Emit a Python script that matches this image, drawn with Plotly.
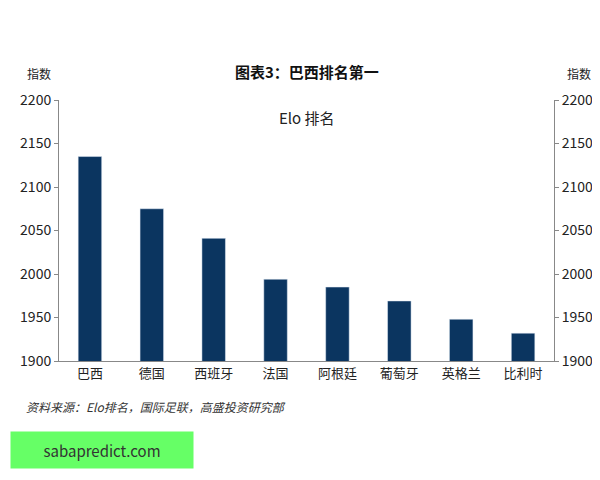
import plotly.graph_objects as go

categories = ["巴西", "德国", "西班牙", "法国", "阿根廷", "葡萄牙", "英格兰", "比利时"]
values = [2135, 2075, 2041, 1994, 1985, 1969, 1948, 1932]
ticks = [1900, 1950, 2000, 2050, 2100, 2150, 2200]

F = "Noto Sans CJK SC"
fig = go.Figure()
fig.add_trace(go.Bar(x=categories, y=values, marker_color="#0B3560", width=0.38))
fig.add_trace(go.Bar(x=categories, y=values, yaxis="y2", opacity=0, showlegend=False, hoverinfo="skip", width=0.38))
ax = dict(range=[1900, 2200], tickvals=ticks, showgrid=False, showline=True, linecolor="#888",
          ticks="outside", ticklen=4, tickcolor="#888", tickfont=dict(size=14, color="#222", family=F))
fig.update_layout(
    width=600, height=480, margin=dict(l=40, r=54, t=92, b=127),
    plot_bgcolor="white", paper_bgcolor="white", showlegend=False, barmode="overlay",
    font=dict(family=F),
    xaxis=dict(showline=True, linecolor="#888", ticks="", tickfont=dict(size=13, color="#222", family=F)),
    yaxis=ax,
    yaxis2=dict(ax, overlaying="y", side="right"),
    annotations=[
        dict(text="<b>图表3：巴西排名第一</b>", x=0.5, y=1.0, yanchor="bottom", yshift=16, xref="paper", yref="paper", showarrow=False, font=dict(size=15, color="#111")),
        dict(text="Elo 排名", x=0.5, xref="paper", y=1.0, yref="paper", yanchor="top", yshift=-5, showarrow=False, font=dict(size=15, color="#222")),
        dict(text="指数", x=-0.04, xref="paper", y=1.0, yref="paper", yanchor="bottom", xanchor="center", yshift=16, showarrow=False, font=dict(size=12, color="#222")),
        dict(text="指数", x=1.05, xref="paper", y=1.0, yref="paper", yanchor="bottom", xanchor="center", yshift=16, showarrow=False, font=dict(size=12, color="#222")),
        dict(text="<i>资料来源：Elo排名，国际足联，高盛投资研究部</i>", x=-0.07, xref="paper", y=-0.215, yref="paper", xanchor="left", showarrow=False, font=dict(size=12, color="#333")),
        dict(text="sabapredict.com", x=-0.1, xanchor="left", xref="paper", y=-0.27, yanchor="top", yref="paper", showarrow=False, font=dict(size=15, color="#333"),
             bgcolor="#66FF66", width=180, height=34),
    ],
)
fig.write_html("out.html")
